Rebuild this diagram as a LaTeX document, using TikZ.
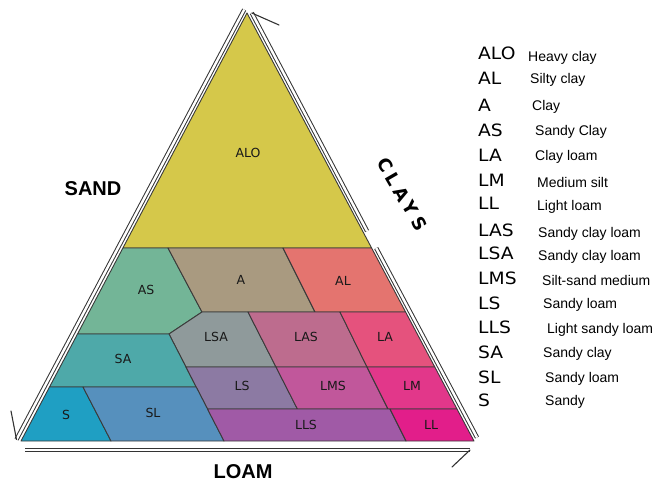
\documentclass[tikz,border=0pt]{standalone}
\usepackage{fontspec}
\setmainfont{Liberation Sans}
\newfontfamily\codefont[FakeStretch=1.1]{DejaVu Sans}
\newfontfamily\lblfont{DejaVu Sans}
\newfontfamily\clayfont[LetterSpace=25]{DejaVu Sans}
\definecolor{cALO}{HTML}{D5C84A}
\definecolor{cAS}{HTML}{73B597}
\definecolor{cA}{HTML}{A99A80}
\definecolor{cAL}{HTML}{E4746F}
\definecolor{cLSA}{HTML}{8F9A9B}
\definecolor{cLAS}{HTML}{BD6C8E}
\definecolor{cLA}{HTML}{E5527D}
\definecolor{cSA}{HTML}{4EA9A9}
\definecolor{cLS}{HTML}{8C7AA3}
\definecolor{cLMS}{HTML}{C1579B}
\definecolor{cLM}{HTML}{E2378A}
\definecolor{cS}{HTML}{1F9FC3}
\definecolor{cSL}{HTML}{5690BD}
\definecolor{cLLS}{HTML}{A05AA6}
\definecolor{cLL}{HTML}{E21E8A}
\definecolor{edge}{HTML}{3A3A3A}
\begin{document}
\begin{tikzpicture}[x=1pt,y=-1pt,
  reg/.style={draw=edge,line width=0.9pt,line join=round},
  dbl/.style={draw=black!80,line width=1pt,double=white,double distance=2.4pt},
  barb/.style={draw=black!80,line width=1.1pt,line cap=round},
  lbl/.style={font=\lblfont\fontsize{12.5}{13}\selectfont,text=black!90,inner sep=0pt},
  code/.style={font=\codefont\fontsize{17}{18}\selectfont,inner sep=0pt},
  desc/.style={font=\fontsize{14}{15}\selectfont,inner sep=0pt},
  axis/.style={font=\bfseries\fontsize{20}{21}\selectfont,inner sep=0pt}]
\useasboundingbox (0,0) rectangle (656,482);
% vertices
\coordinate (T) at (247,13);
\coordinate (L1) at (122.9,248); \coordinate (R1) at (371.6,248);
\coordinate (a1) at (168,248); \coordinate (a2) at (283,248);
\coordinate (b1) at (202,312); \coordinate (b2) at (248,312);
\coordinate (b3) at (315,312); \coordinate (b4) at (340,312);
\coordinate (R2) at (405.6,312);
\coordinate (c1) at (169,334); \coordinate (L3) at (77.5,334);
\coordinate (d1) at (186,367); \coordinate (d2) at (276,367);
\coordinate (d3) at (367,367); \coordinate (R4) at (434.8,367);
\coordinate (L5) at (49.5,387); \coordinate (e1) at (83,387);
\coordinate (e2) at (196.2,387);
\coordinate (f1) at (207.5,409); \coordinate (f2) at (297.4,409);
\coordinate (f3) at (388,409); \coordinate (f4) at (390,409);
\coordinate (R6) at (457,409);
\coordinate (BL) at (21,441); \coordinate (g1) at (111,441);
\coordinate (g2) at (224,441); \coordinate (g3) at (406,441);
\coordinate (BR) at (474,441);
% regions
\filldraw[reg,fill=cALO] (T) -- (L1) -- (R1) -- cycle;
\filldraw[reg,fill=cAS] (L1) -- (a1) -- (b1) -- (c1) -- (L3) -- cycle;
\filldraw[reg,fill=cA] (a1) -- (a2) -- (b3) -- (b1) -- cycle;
\filldraw[reg,fill=cAL] (a2) -- (R1) -- (R2) -- (b3) -- cycle;
\filldraw[reg,fill=cLSA] (b1) -- (b2) -- (d2) -- (d1) -- (c1) -- cycle;
\filldraw[reg,fill=cLAS] (b2) -- (b4) -- (d3) -- (d2) -- cycle;
\filldraw[reg,fill=cLA] (b4) -- (R2) -- (R4) -- (d3) -- cycle;
\filldraw[reg,fill=cSA] (L3) -- (c1) -- (e2) -- (L5) -- cycle;
\filldraw[reg,fill=cLS] (d1) -- (d2) -- (f2) -- (f1) -- cycle;
\filldraw[reg,fill=cLMS] (d2) -- (d3) -- (f3) -- (f2) -- cycle;
\filldraw[reg,fill=cLM] (d3) -- (R4) -- (R6) -- (f3) -- cycle;
\filldraw[reg,fill=cS] (L5) -- (e1) -- (g1) -- (BL) -- cycle;
\filldraw[reg,fill=cSL] (e1) -- (e2) -- (g2) -- (g1) -- cycle;
\filldraw[reg,fill=cLLS] (f1) -- (f4) -- (g3) -- (g2) -- cycle;
\filldraw[reg,fill=cLL] (f4) -- (R6) -- (BR) -- (g3) -- cycle;
% region labels
\node[lbl] (tALO) at (248,153) {ALO};
\node[lbl] (tAS) at (146,290) {AS};
\node[lbl] (tA) at (241,280) {A};
\node[lbl] (tAL) at (343,281) {AL};
\node[lbl] (tLSA) at (216,337) {LSA};
\node[lbl] (tLAS) at (306,337) {LAS};
\node[lbl] (tLA) at (385,337) {LA};
\node[lbl] (tSA) at (123,359) {SA};
\node[lbl] (tLS) at (242,386) {LS};
\node[lbl] (tLMS) at (333,386) {LMS};
\node[lbl] (tLM) at (412,386) {LM};
\node[lbl] (tS) at (66,415) {S};
\node[lbl] (tSL) at (153,413) {SL};
\node[lbl] (tLLS) at (306,425) {LLS};
\node[lbl] (tLL) at (431,425) {LL};
% axis arrows
\coordinate (lt) at (244.2,9.6); \coordinate (lb) at (16.5,439.5); \coordinate (lbb) at (11,411);
\draw[dbl] (lt) -- (lb);
\draw[barb] (lb) -- (lbb);
\coordinate (rt) at (251.8,13); \coordinate (rtb) at (279,25);
\coordinate (rm1) at (367.1,231.1); \coordinate (rm2) at (376.2,248.1);
\coordinate (rb) at (477,437.5);
\draw[dbl] (rt) -- (rm1);
\draw[dbl] (rm2) -- (rb);
\draw[barb] (rt) -- (rtb);
\coordinate (bl) at (25,450); \coordinate (br) at (470,450); \coordinate (brb) at (452,467);
\draw[dbl] (bl) -- (br);
\draw[barb] (br) -- (brb);
% axis labels
\node[axis] (sand) at (93,189) {SAND};
\node[axis] (loam) at (243,472) {LOAM};
\node[inner sep=0pt,rotate=-60,font=\clayfont\bfseries\fontsize{18}{19}\selectfont] (clays) at (402,194) {CLAYS};
% legend
\foreach \c/\yc/\d/\xd/\yd [count=\i] in {ALO/53/Heavy clay/528/56, AL/78/Silty clay/530/78, A/105/Clay/532/105, AS/130/Sandy Clay/535/130, LA/155/Clay loam/535/155, LM/180/Medium silt/537/182, LL/203/Light loam/537/205, LAS/230/Sandy clay loam/538/232, LSA/253/Sandy clay loam/538/255, LMS/278/Silt-sand medium/542/280, LS/303/Sandy loam/543/303, LLS/327/Light sandy loam/547/328, SA/352/Sandy clay/543/352, SL/377/Sandy loam/545/377, S/400/Sandy/545/400}{
  \node[code,anchor=base west] (code\i) at (478,\yc+6) {\c};
  \node[desc,anchor=base west] (desc\i) at (\xd,\yd+5) {\d};
}
\end{tikzpicture}
\end{document}
